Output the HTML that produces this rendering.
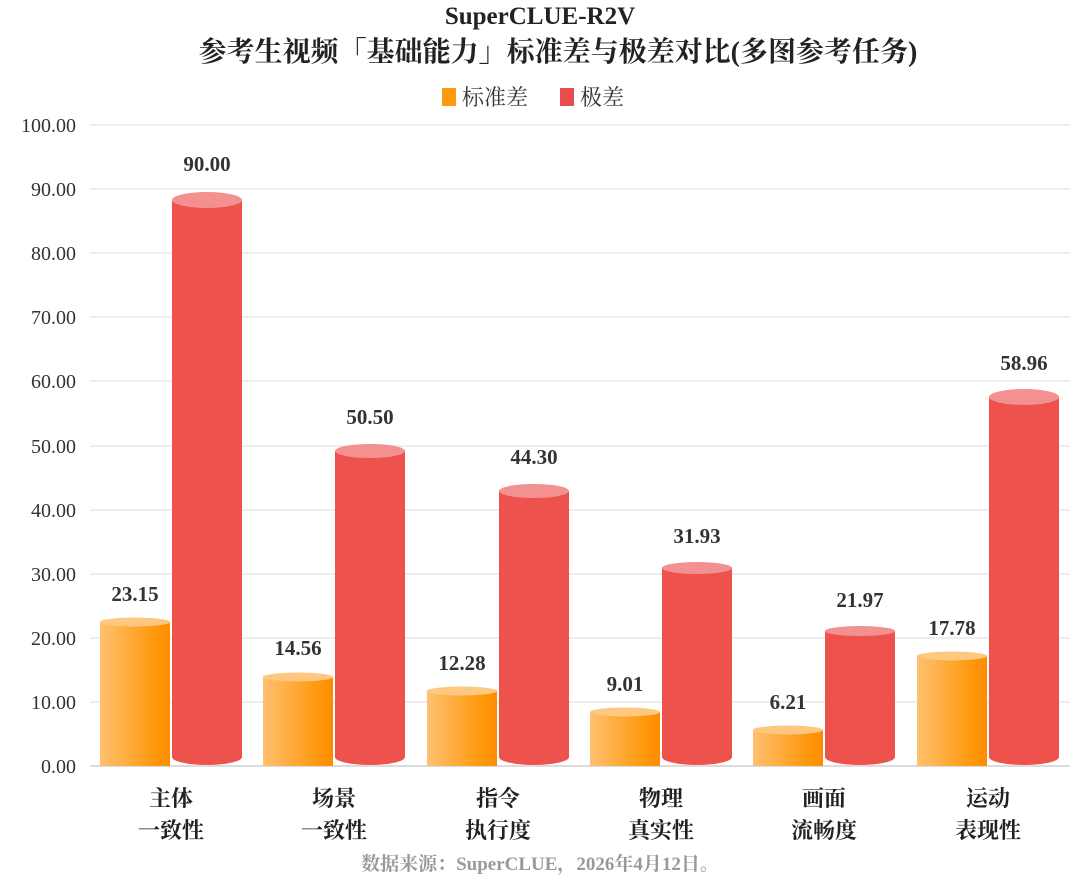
<!DOCTYPE html>
<html><head><meta charset="utf-8"><style>
body{margin:0;background:#fff;}
svg text{font-family:"Liberation Serif","Noto Serif CJK SC",serif;}
</style></head><body>
<svg width="1080" height="886" viewBox="0 0 1080 886" xmlns="http://www.w3.org/2000/svg">
<defs>
<linearGradient id="og" x1="0" x2="1" y1="0" y2="0"><stop offset="0" stop-color="#ffc070"/><stop offset="0.75" stop-color="#ff9a10"/><stop offset="1" stop-color="#ff8c00"/></linearGradient>
</defs>
<text x="540" y="24" text-anchor="middle" font-size="25" font-weight="bold" fill="#222">SuperCLUE-R2V</text>
<text x="558" y="61" text-anchor="middle" font-size="28" font-weight="bold" fill="#222">参考生视频「基础能力」标准差与极差对比(多图参考任务)</text>
<rect x="442" y="88" width="14" height="18" fill="#ff9a10"/>
<text x="462" y="105" font-size="22" fill="#333">标准差</text>
<rect x="560" y="88" width="14" height="18" fill="#e84c4c"/>
<text x="580" y="105" font-size="22" fill="#333">极差</text>
<g stroke="#e4e4e4" stroke-width="1.2">
<line x1="90" x2="1070" y1="125" y2="125"/><line x1="90" x2="1070" y1="189" y2="189"/><line x1="90" x2="1070" y1="253" y2="253"/><line x1="90" x2="1070" y1="317" y2="317"/><line x1="90" x2="1070" y1="381" y2="381"/><line x1="90" x2="1070" y1="446" y2="446"/><line x1="90" x2="1070" y1="510" y2="510"/><line x1="90" x2="1070" y1="574" y2="574"/><line x1="90" x2="1070" y1="638" y2="638"/><line x1="90" x2="1070" y1="702" y2="702"/>
</g>
<line x1="90" x2="1070" y1="766" y2="766" stroke="#d0d0d0" stroke-width="1.5"/>
<g font-size="20" fill="#333" text-anchor="end">
<text x="76" y="132">100.00</text><text x="76" y="196">90.00</text><text x="76" y="260">80.00</text><text x="76" y="324">70.00</text><text x="76" y="388">60.00</text><text x="76" y="453">50.00</text><text x="76" y="517">40.00</text><text x="76" y="581">30.00</text><text x="76" y="645">20.00</text><text x="76" y="709">10.00</text><text x="76" y="773">0.00</text>
</g>
<g fill="url(#og)">
<rect x="100" y="622" width="70" height="144"/>
<rect x="263" y="677" width="70" height="89"/>
<rect x="427" y="691" width="70" height="75"/>
<rect x="590" y="712" width="70" height="54"/>
<rect x="753" y="730" width="70" height="36"/>
<rect x="917" y="656" width="70" height="110"/>
</g>
<g fill="#ffc880">
<ellipse cx="135" cy="622" rx="35" ry="4.5"/>
<ellipse cx="298" cy="677" rx="35" ry="4.5"/>
<ellipse cx="462" cy="691" rx="35" ry="4.5"/>
<ellipse cx="625" cy="712" rx="35" ry="4.5"/>
<ellipse cx="788" cy="730" rx="35" ry="4.5"/>
<ellipse cx="952" cy="656" rx="35" ry="4.5"/>
</g>
<g fill="#ee524c">
<path d="M172 200 L172 757 A35 8 0 0 0 242 757 L242 200 Z"/>
<path d="M335 451 L335 757 A35 8 0 0 0 405 757 L405 451 Z"/>
<path d="M499 491 L499 757 A35 8 0 0 0 569 757 L569 491 Z"/>
<path d="M662 568 L662 757 A35 8 0 0 0 732 757 L732 568 Z"/>
<path d="M825 631 L825 757 A35 8 0 0 0 895 757 L895 631 Z"/>
<path d="M989 397 L989 757 A35 8 0 0 0 1059 757 L1059 397 Z"/>
</g>
<g fill="#f39090">
<ellipse cx="207" cy="200" rx="35" ry="8"/>
<ellipse cx="370" cy="451" rx="35" ry="7"/>
<ellipse cx="534" cy="491" rx="35" ry="7"/>
<ellipse cx="697" cy="568" rx="35" ry="6"/>
<ellipse cx="860" cy="631" rx="35" ry="5"/>
<ellipse cx="1024" cy="397" rx="35" ry="8"/>
</g>
<g font-size="21" font-weight="bold" fill="#333" text-anchor="middle">
<text x="135" y="601">23.15</text>
<text x="298" y="655">14.56</text>
<text x="462" y="670">12.28</text>
<text x="625" y="691">9.01</text>
<text x="788" y="709">6.21</text>
<text x="952" y="635">17.78</text>
<text x="207" y="171">90.00</text>
<text x="370" y="424">50.50</text>
<text x="534" y="464">44.30</text>
<text x="697" y="543">31.93</text>
<text x="860" y="607">21.97</text>
<text x="1024" y="370">58.96</text>
</g>
<g font-size="22" font-weight="bold" fill="#222" text-anchor="middle">
<text x="171" y="806">主体</text><text x="171" y="838">一致性</text>
<text x="334" y="806">场景</text><text x="334" y="838">一致性</text>
<text x="498" y="806">指令</text><text x="498" y="838">执行度</text>
<text x="661" y="806">物理</text><text x="661" y="838">真实性</text>
<text x="824" y="806">画面</text><text x="824" y="838">流畅度</text>
<text x="988" y="806">运动</text><text x="988" y="838">表现性</text>
</g>
<text x="540" y="870" text-anchor="middle" font-size="19" font-weight="bold" fill="#999">数据来源：SuperCLUE，2026年4月12日。</text>
</svg>
</body></html>
